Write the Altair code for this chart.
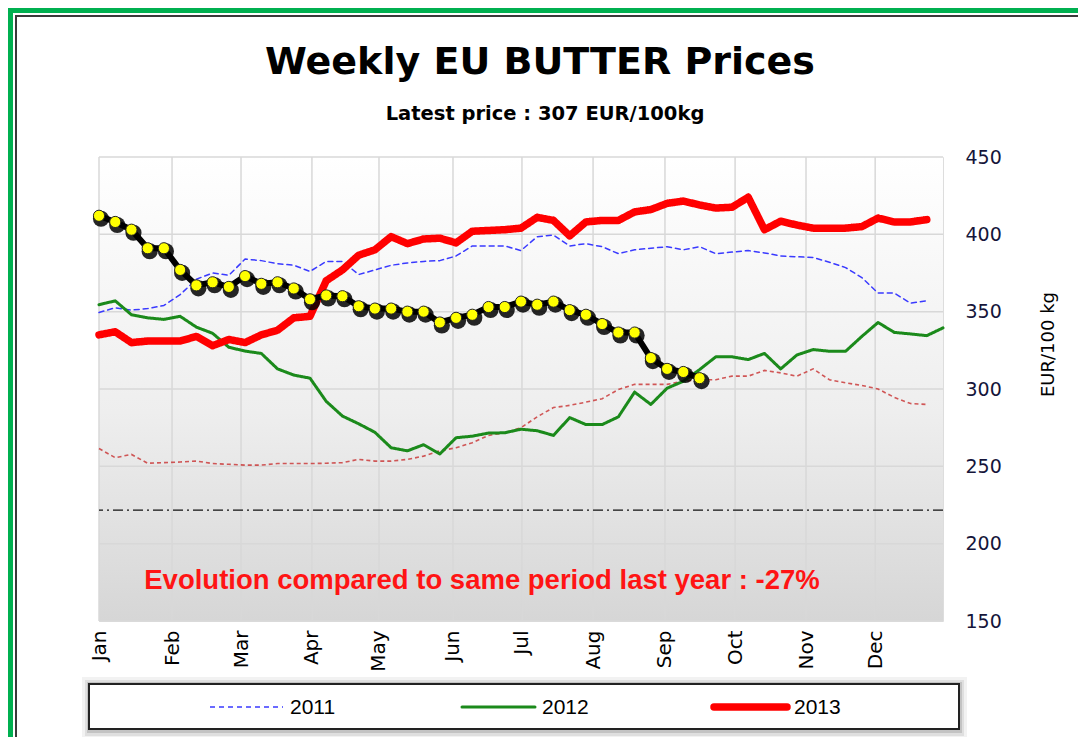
import altair as alt
import pandas as pd

# ---------------- data ----------------
MONTHS = ["Jan", "Feb", "Mar", "Apr", "May", "Jun", "Jul", "Aug", "Sep", "Oct", "Nov", "Dec"]
MONTH_POS = [0, 4.5, 8.75, 13.12, 17.25, 21.81, 26.06, 30.44, 34.87, 39.19, 43.56, 47.82]
Y_TICKS = [150, 200, 250, 300, 350, 400, 450]

YEARS = ["2011", "2012", "2013"]

P2011 = [349.5, 352.5, 351, 352, 354, 361, 371, 375, 373.5, 384,
         383, 381, 380, 376, 382.5, 382.5, 374, 377, 380, 381.5,
         382.5, 383, 386, 392.5, 392.5, 392.5, 389.5, 398.5, 399.5, 392.5,
         394, 392, 387.5, 390, 391, 392, 390, 392, 387.5, 388.5,
         389.5, 388, 386, 385.5, 385, 382, 378.5, 372, 362, 362,
         355.5, 357]
P2012 = [354.5, 357, 348, 346, 345, 347, 340, 336, 327, 324.5,
         323, 313, 309, 307, 292, 282.5, 277.5, 272, 262, 260,
         264, 258, 268.5, 269.5, 271.5, 271.7, 274, 273, 270, 281.5,
         277, 277, 282, 298, 290, 300.5, 305, 312.5, 320.8, 320.8,
         319, 323, 313, 322, 325.5, 324.4, 324.4, 334, 343, 336.6,
         335.6, 334.5, 339.5]
P2013 = [335, 337, 330, 331, 331, 331, 334, 328, 332, 330,
         335, 338, 346, 347, 370, 377, 386.5, 390, 398.5, 394,
         397, 397.5, 394.5, 402, 402.5, 403, 404, 411, 409, 399,
         408, 409, 409, 414.5, 416, 420, 421.5, 419, 417, 417.5,
         424, 403, 408.5, 406, 404, 404, 404, 405, 410.5, 408,
         408, 409.5]
# unlabelled dotted series (older year)
P_OLD = [261.5, 255.6, 257.7, 252, 252.4, 252.8, 253.4, 251.8, 251.3, 250.8,
         250.8, 251.8, 251.8, 251.8, 252, 252.4, 254.5, 253.4, 253.4, 254.5,
         256.6, 260, 262, 265.3, 270, 271.7, 275, 282, 288, 289.4,
         291.5, 293.7, 299.7, 303, 303, 303, 305, 306, 306, 308.3,
         308.3, 312, 310.4, 308.3, 313, 306, 304, 302.3, 300, 294.6,
         290.6, 290]
# current year (yellow dots)
P_CURRENT = [412, 408, 403, 391, 391, 377, 367, 369, 366, 373,
             368, 369, 365, 358, 360.5, 360, 353.5, 352, 352, 350,
             350, 343, 346, 348, 353, 353, 356.5, 354.5, 356.5, 351,
             348, 342, 336.5, 336.5, 320, 313, 311, 307]
INTERVENTION = [221.75]

TITLE = "Weekly EU BUTTER Prices"
SUBTITLE = "Latest price : 307  EUR/100kg"
NOTE = "Evolution compared to same period last year : -27%"

# ---------------- styles ----------------
YEAR_COLORS = ["#3a3aff", "#1b8a1b", "#ff0000"]
YEAR_WIDTHS = [1.5, 3, 7.5]
YEAR_DASHES = [[5, 4], [1, 0], [1, 0]]

# ---------------- tables ----------------
year_tables = []
for yr, vals in zip(YEARS, [P2011, P2012, P2013]):
    year_tables.append(pd.DataFrame({"year": yr, "week": list(range(len(vals))), "price": vals}))
old_df = pd.DataFrame({"week": list(range(len(P_OLD))), "price": P_OLD})
cur_df = pd.DataFrame({"week": list(range(len(P_CURRENT))), "price": P_CURRENT})
mgrid_df = pd.DataFrame({"week": MONTH_POS})
ygrid_df = pd.DataFrame({"price": Y_TICKS})
int_df = pd.DataFrame({"price": INTERVENTION})

W, H = 844, 464

label_expr = "[" + ",".join("'%s'" % m for m in MONTHS) + "][indexof([" + \
    ",".join(repr(p) for p in MONTH_POS) + "], datum.value)]"

XS = alt.Scale(domain=[0, 52], nice=False, zero=False)
YS = alt.Scale(domain=[150, 450], nice=False, zero=False)
XAX = alt.Axis(values=MONTH_POS, labelExpr=label_expr, grid=False, domain=False,
               ticks=False, labelAngle=270, labelFont="DejaVu Sans", labelFontSize=20,
               labelColor="#000000", labelPadding=9, title=None)
YAX = alt.Axis(orient="right", values=Y_TICKS, grid=False, domain=False, ticks=False,
               labelFont="DejaVu Sans", labelFontSize=19, labelColor="#15153a",
               labelPadding=22, title="EUR/100 kg", titleFont="DejaVu Sans",
               titleFontSize=18, titleFontWeight="normal", titleColor="#000000",
               titleAngle=270, titleX=105, titleY=187, titleAlign="center",
               titleBaseline="middle")


def X(field="week"):
    return alt.X(field + ":Q", scale=XS, axis=XAX)


def Y(field="price"):
    return alt.Y(field + ":Q", scale=YS, axis=YAX)


ONE = pd.DataFrame({"a": [0]})


def box(x1, x2, y1, y2, **kw):
    return alt.Chart(ONE).mark_rect(**kw).encode(
        x=alt.value(x1), x2=alt.value(x2), y=alt.value(y1), y2=alt.value(y2))


def label(txt, x, y, **kw):
    return alt.Chart(ONE).mark_text(text=txt, **kw).encode(x=alt.value(x), y=alt.value(y))


# page frame (decoration)
frame = [
    box(-91, -86, -149, 580, color="#00b050"),
    box(-91, 979, -149, -144, color="#00b050"),
    box(-84, -82, -142, 580, color="#3a3a3a"),
    box(-84, 979, -142, -140, color="#3a3a3a"),
]

titles = [
    label(TITLE, 441, -83, font="DejaVu Sans", fontSize=38, fontWeight="bold",
          color="#000000", align="center", baseline="alphabetic"),
    label(SUBTITLE, 446, -37, font="DejaVu Sans", fontSize=19.5, fontWeight="bold",
          color="#000000", align="center", baseline="alphabetic"),
]

bg = box(0, W, 0, H, color=alt.LinearGradient(
    gradient="linear", x1=0, x2=0, y1=0, y2=1,
    stops=[alt.GradientStop(color="#ffffff", offset=0),
           alt.GradientStop(color="#eeeeee", offset=0.55),
           alt.GradientStop(color="#d6d6d6", offset=1)]))

vgrid = alt.Chart(mgrid_df).mark_rule(color="#d8d8d8", strokeWidth=1.5).encode(x=X())
hgrid = alt.Chart(ygrid_df).mark_rule(color="#d8d8d8", strokeWidth=1.5).encode(y=Y())

interv = alt.Chart(int_df).mark_rule(color="#111111", strokeWidth=1.2,
                                      strokeDash=[10, 4, 2, 4]).encode(y=Y())

old_line = alt.Chart(old_df).mark_line(color="#c83030", strokeWidth=1.6,
                                        strokeDash=[4, 3], opacity=0.8).encode(x=X(), y=Y())

year_lines = []
for df, c, w, d in zip(year_tables, YEAR_COLORS, YEAR_WIDTHS, YEAR_DASHES):
    year_lines.append(alt.Chart(df).mark_line(color=c, strokeWidth=w, strokeDash=d,
                                              strokeJoin="round", strokeCap="round")
                      .encode(x=X(), y=Y()))

cur_line = alt.Chart(cur_df).mark_line(color="#000000", strokeWidth=6,
                                        strokeJoin="round").encode(x=X(), y=Y())
cur_shadow = alt.Chart(cur_df).mark_circle(color="#000000", size=260, opacity=0.85,
                                            xOffset=2, yOffset=3).encode(x=X(), y=Y())
cur_dots = alt.Chart(cur_df).mark_circle(color="#ffff00", size=125, opacity=1,
                                          stroke="#222222", strokeWidth=1).encode(x=X(), y=Y())

note = label(NOTE, 383, 424, font="Liberation Sans", fontSize=27.5, fontWeight="bold",
             color="#ff1414", align="center", baseline="middle")

# legend box with soft shadow + entries
legend = [
    box(-17, 868, 520, 582, color="#000000", opacity=0.05),
    box(-14, 865, 523, 579, color="#000000", opacity=0.08),
    box(-12, 863, 525, 576, color="#000000", opacity=0.12),
    box(-10, 860, 527, 572, color="#ffffff", stroke="#222222", strokeWidth=2),
]
for i, (yr, c, w, d) in enumerate(zip(YEARS, YEAR_COLORS, YEAR_WIDTHS, YEAR_DASHES)):
    x0 = 111 + 252 * i
    legend.append(alt.Chart(ONE).mark_rule(color=c, strokeWidth=w, strokeDash=d,
                                           strokeCap="butt" if i == 0 else "round")
                  .encode(x=alt.value(x0), x2=alt.value(x0 + 73), y=alt.value(550)))
    legend.append(label(yr, x0 + 80, 551, font="Liberation Sans", fontSize=21,
                        color="#000000", align="left", baseline="middle"))

chart = alt.layer(
    *frame, *titles, bg, vgrid, hgrid, interv, old_line, *year_lines,
    cur_line, cur_shadow, cur_dots, note, *legend,
).properties(
    width=W, height=H,
    padding={"left": 91, "top": 149, "right": 135, "bottom": 116},
    autosize=alt.AutoSizeParams(type="none"),
).configure_view(stroke=None).configure(background="#ffffff")

chart.save("out.html", embed_options={"renderer": "svg", "actions": False})
